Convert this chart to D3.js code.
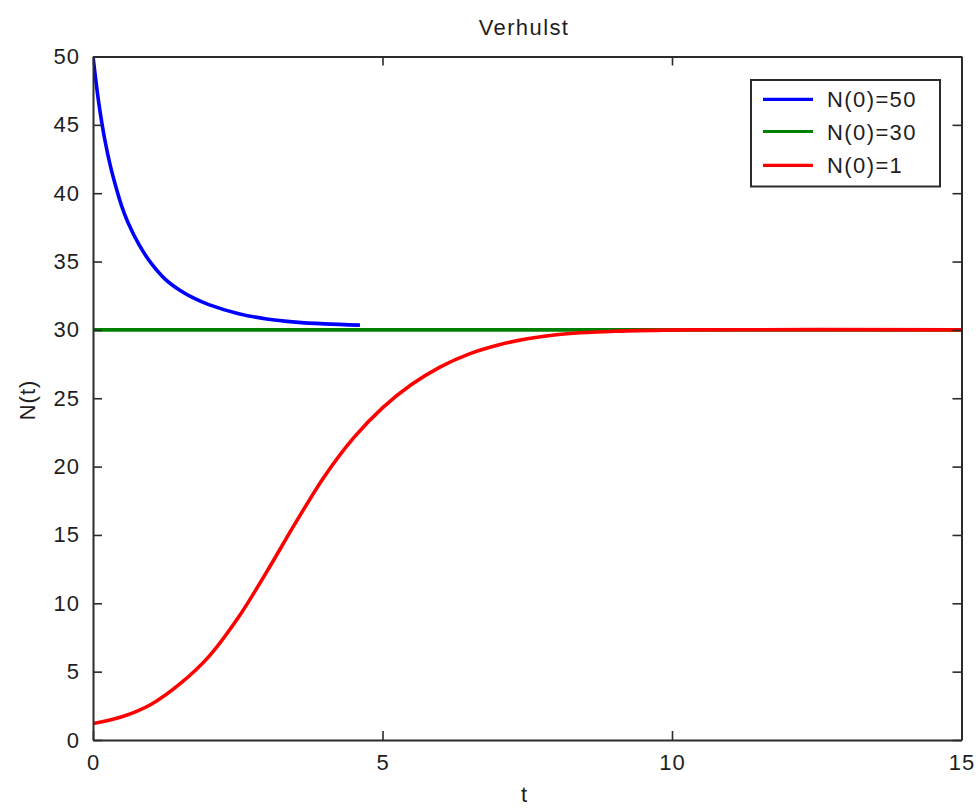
<!DOCTYPE html>
<html>
<head>
    <title>Verhulst</title>
    <script src="https://d3js.org/d3.v7.min.js"></script>
    <style>
        body { margin: 0; background: #fff; }
        text { font-family: "Liberation Sans", Arial, sans-serif; fill: #1e1e1e; }
    </style>
</head>
<body>
    <div id="chart"></div>
    <script>
        // values
        const blueT = [0, 0.1, 0.2, 0.3, 0.4, 0.5, 0.6, 0.8, 1.0, 1.25, 1.5, 1.75, 2.0, 2.5, 3.0, 3.5, 4.0, 4.61];
        const blueN = [50, 46.6, 44.0, 42.0, 40.4, 39.0, 37.9, 36.2, 34.9, 33.7, 32.9, 32.3, 31.85, 31.2, 30.8, 30.57, 30.44, 30.35];
        const greenT = [0, 15];
        const greenN = [30, 30];
        const redT = [0, 0.5, 1.0, 1.5, 2.0, 2.5, 3.0, 3.5, 4.0, 4.5, 5.0, 5.5, 6.0, 6.5, 7.0, 7.5, 8.0, 9.0, 10.3, 15];
        const redN = [1.2, 1.7, 2.6, 4.1, 6.1, 8.9, 12.3, 15.9, 19.3, 22.1, 24.3, 26.0, 27.3, 28.25, 28.9, 29.35, 29.65, 29.9, 30, 30];

        const seriesNames = ["N(0)=50", "N(0)=30", "N(0)=1"];
        const seriesColors = ["#0000ff", "#008000", "#ff0000"];
        const xTicks = [0, 5, 10, 15];
        const yTicks = [0, 5, 10, 15, 20, 25, 30, 35, 40, 45, 50];

        const width = 978, height = 808;
        const plotLeft = 93, plotRight = 961.5, plotTop = 56.5, plotBottom = 740;

        const svg = d3.select("#chart").append("svg")
            .attr("width", width)
            .attr("height", height);

        const x = d3.scaleLinear().domain([0, 15]).range([plotLeft, plotRight]);
        const y = d3.scaleLinear().domain([0, 50]).range([plotBottom, plotTop]);

        svg.append("clipPath").attr("id", "plotclip")
            .append("rect")
            .attr("x", plotLeft).attr("y", plotTop - 3)
            .attr("width", plotRight - plotLeft).attr("height", plotBottom - plotTop + 3);

        // curves
        const series = [
            d3.zip(blueT, blueN),
            d3.zip(greenT, greenN),
            d3.zip(redT, redN)
        ];
        const line = d3.line()
            .x(d => x(d[0]))
            .y(d => y(d[1]))
            .curve(d3.curveCatmullRom.alpha(0.5));

        svg.append("g").attr("clip-path", "url(#plotclip)")
            .selectAll("path")
            .data(series)
            .enter()
            .append("path")
            .attr("d", line)
            .attr("fill", "none")
            .attr("stroke", (d, i) => seriesColors[i])
            .attr("stroke-width", 3.6);

        // axes: ticks on all four sides pointing in
        const axisColor = "#2b2b2b";
        const bottomAxis = d3.axisBottom(x).tickValues(xTicks).tickSizeInner(-9).tickSizeOuter(0).tickPadding(14);
        const topAxis = d3.axisTop(x).tickValues(xTicks).tickSizeInner(-9).tickSizeOuter(0).tickFormat("");
        const leftAxis = d3.axisLeft(y).tickValues(yTicks).tickSizeInner(-9).tickSizeOuter(0).tickPadding(13);
        const rightAxis = d3.axisRight(y).tickValues(yTicks).tickSizeInner(-9).tickSizeOuter(0).tickFormat("");

        function styleAxis(g) {
            g.select(".domain").attr("stroke", axisColor).attr("stroke-width", 2);
            g.selectAll(".tick line").attr("stroke", axisColor).attr("stroke-width", 1.6);
            g.selectAll(".tick text")
                .attr("fill", "#1e1e1e")
                .style("font-size", "22px")
                .style("letter-spacing", "1px")
                .attr("font-family", null);
        }

        svg.append("g").attr("transform", `translate(0,${plotBottom})`).call(bottomAxis).call(styleAxis);
        svg.append("g").attr("transform", `translate(0,${plotTop})`).call(topAxis).call(styleAxis);
        svg.append("g").attr("transform", `translate(${plotLeft},0)`).call(leftAxis).call(styleAxis);
        svg.append("g").attr("transform", `translate(${plotRight},0)`).call(rightAxis).call(styleAxis);

        // title and axis labels
        svg.append("text")
            .attr("x", 524).attr("y", 35)
            .attr("text-anchor", "middle")
            .style("font-size", "22px")
            .style("letter-spacing", "1.4px")
            .text("Verhulst");

        svg.append("text")
            .attr("x", 524).attr("y", 802)
            .attr("text-anchor", "middle")
            .style("font-size", "22px")
            .text("t");

        svg.append("text")
            .attr("transform", "translate(35,400) rotate(-90)")
            .attr("text-anchor", "middle")
            .style("font-size", "22px")
            .style("letter-spacing", "1px")
            .text("N(t)");

        // legend
        const legend = svg.append("g");
        legend.append("rect")
            .attr("x", 751).attr("y", 80)
            .attr("width", 189).attr("height", 106.5)
            .attr("fill", "#fff")
            .attr("stroke", axisColor)
            .attr("stroke-width", 2);

        const legendY = [99.3, 131.5, 165.3];
        const items = legend.selectAll("g.item")
            .data(seriesNames)
            .enter()
            .append("g")
            .attr("class", "item")
            .attr("transform", (d, i) => `translate(0,${legendY[i]})`);

        items.append("line")
            .attr("x1", 763).attr("x2", 813)
            .attr("stroke", (d, i) => seriesColors[i])
            .attr("stroke-width", 3.2);

        items.append("text")
            .attr("x", 827)
            .attr("y", 8)
            .style("font-size", "22px")
            .style("letter-spacing", "1.4px")
            .text(d => d);
    </script>
</body>
</html>
